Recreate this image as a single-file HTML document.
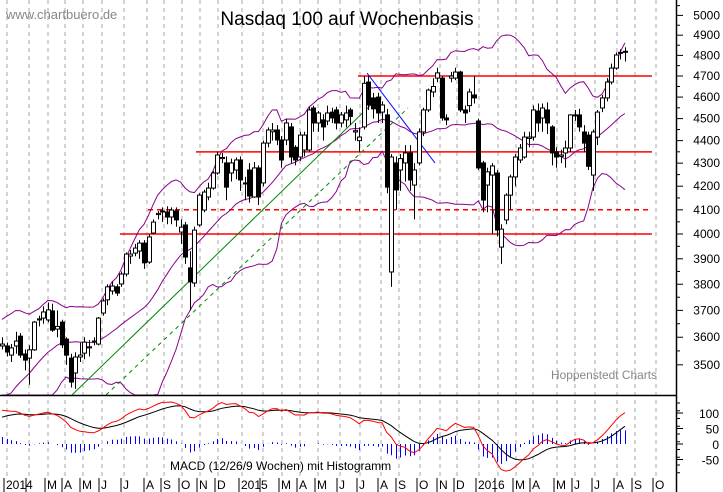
<!DOCTYPE html>
<html><head><meta charset="utf-8">
<style>
html,body{margin:0;padding:0;background:#fff;}
svg{display:block;font-family:"Liberation Sans",Arial,sans-serif;}
</style></head>
<body>
<svg id="chart" width="723" height="492" viewBox="0 0 723 492" xmlns="http://www.w3.org/2000/svg">
  <rect x="0" y="0" width="723" height="492" fill="#fff"/>
  <g id="grid"></g>
  <g id="levels"></g>
  <g id="bands"></g>
  <g id="trend"></g>
  <g id="candles"></g>
  <g id="macd"></g>
  <g id="axes"></g>
  <text x="6" y="19" font-size="13" fill="#888">www.chartbuero.de</text>
  <text x="347" y="25" font-size="19" fill="#000" text-anchor="middle">Nasdaq 100 auf Wochenbasis</text>
  <text x="551" y="379" font-size="12" fill="#888" textLength="106" lengthAdjust="spacingAndGlyphs">Hoppenstedt Charts</text>
  <text x="170" y="470" font-size="12" fill="#000">MACD (12/26/9 Wochen) mit Histogramm</text>
</svg>
<script>
const priorCloses=[3130,3150,3180,3190,3200,3230,3260,3280,3340,3360,3380,3370,3410,3440,3470,3500,3560,3590,3580];
const opens=[3568,3568,3535,3568,3604,3539,3524,3554,3664,3671,3664,3698,3630,3656,3593,3524,3471,3528,3542,3561,3582,3575,3690,3740,3774,3790,3801,3840,3911,3923,3931,3963,3887,4004,4080,4091,4091,4070,4095,4008,4037,3864,3805,4037,4099,4154,4192,4257,4320,4301,4257,4270,4314,4210,4270,4154,4279,4214,4389,4440,4448,4403,4403,4462,4370,4327,4358,4358,4549,4480,4494,4489,4530,4540,4480,4494,4540,4439,4400,4462,4671,4596,4600,4530,4517,3848,4301,4270,4301,4345,4205,4301,4439,4540,4624,4690,4690,4503,4690,4690,4719,4540,4560,4610,4489,4301,4205,4248,4257,3947,4058,4162,4240,4314,4327,4410,4416,4535,4503,4540,4462,4350,4330,4345,4367,4515,4517,4439,4425,4248,4416,4549,4596,4671,4738,4810,4815];
const highs=[3600,3580,3575,3620,3615,3555,3570,3660,3680,3715,3730,3725,3700,3665,3600,3540,3545,3580,3600,3590,3600,3675,3745,3800,3810,3800,3850,3925,3935,3960,3975,3975,4000,4060,4095,4110,4115,4110,4110,4060,4050,3930,4030,4170,4185,4215,4265,4350,4345,4330,4320,4325,4330,4240,4300,4305,4290,4400,4460,4480,4470,4420,4500,4480,4380,4440,4440,4555,4560,4535,4520,4560,4550,4555,4530,4560,4550,4480,4460,4700,4700,4620,4620,4580,4545,4340,4330,4340,4380,4380,4300,4455,4550,4640,4690,4740,4700,4520,4720,4740,4725,4560,4640,4700,4500,4310,4280,4300,4270,4040,4170,4250,4340,4385,4440,4440,4560,4570,4570,4575,4470,4370,4360,4400,4520,4540,4545,4470,4440,4450,4540,4610,4690,4760,4815,4830,4840];
const lows=[3555,3530,3510,3540,3525,3480,3430,3550,3640,3650,3655,3620,3600,3560,3500,3420,3415,3510,3520,3530,3570,3570,3680,3720,3760,3755,3790,3830,3880,3910,3900,3860,3880,4000,4060,4050,4040,4040,4030,3960,3880,3700,3790,4030,4090,4140,4185,4250,4300,4140,4220,4230,4180,4140,4130,4150,4120,4200,4370,4400,4380,4280,4380,4300,4290,4310,4330,4350,4440,4440,4400,4470,4480,4450,4460,4460,4470,4400,4350,4450,4540,4500,4480,4480,4170,3790,4100,4180,4220,4180,4060,4290,4420,4530,4600,4670,4490,4470,4670,4680,4530,4480,4530,4570,4270,4090,4090,4000,3990,3880,4040,4100,4200,4300,4320,4370,4400,4440,4440,4430,4290,4280,4300,4280,4350,4490,4440,4350,4270,4180,4380,4530,4580,4660,4730,4780,4770];
const closes=[3575,3546,3561,3586,3535,3517,3554,3656,3668,3694,3702,3626,3640,3572,3535,3439,3528,3535,3582,3565,3586,3671,3736,3790,3793,3766,3840,3919,3919,3943,3963,3884,3988,4049,4085,4095,4070,4099,4058,4028,3907,3809,4016,4162,4175,4192,4257,4336,4325,4196,4301,4314,4227,4214,4158,4279,4154,4389,4448,4448,4403,4314,4480,4327,4314,4425,4425,4540,4480,4526,4462,4526,4503,4480,4517,4526,4510,4445,4416,4665,4563,4545,4526,4563,4196,4327,4184,4320,4345,4227,4270,4439,4540,4633,4650,4715,4503,4494,4700,4719,4540,4526,4624,4596,4279,4141,4262,4288,4016,4020,4162,4240,4327,4367,4416,4416,4540,4480,4549,4480,4345,4327,4336,4367,4517,4517,4462,4389,4286,4439,4530,4596,4671,4738,4802,4815,4820];
const priceTicks=[3500,3600,3700,3800,3900,4000,4100,4200,4300,4400,4500,4600,4700,4800,4900,5000];
const macdTicks=[100,50,0,-50];
const monthLabels=["2014","","M","A","M","J","J","A","S","O","N","D","2015","","M","A","M","J","J","A","S","O","N","D","2016","","M","A","M","J","J","A","S","O"];
const monthTickX=[7,29,48,65,83,102,124,147,164,182,200,218,242,263,282,300,318,340,360,381,399,420,440,457,479,498,516,533,557,575,595,617,635,656];
const levelValues=[4700,4350,4100,4000];
const levelDashed=[false,false,true,false];
const levelStartX=[358,196,148,120];

const NS="http://www.w3.org/2000/svg";
function mk(tag,attrs,parent){const e=document.createElementNS(NS,tag);for(const k in attrs)e.setAttribute(k,attrs[k]);parent.appendChild(e);return e;}
const yP=v=>234-979.7*Math.log(v/4000);
const xC=i=>2+i*4.58;
const yM=v=>444-v*0.31;
const AXX=676, MAINB=395, MACDB=477, PLOTR=652;

const grid=document.getElementById('grid');
monthTickX.forEach((x,i)=>{
  const l=mk('line',{x1:x,y1:0,x2:x,y2:MACDB,stroke:'#aaa','stroke-width':1,'stroke-dasharray':'4,4'},grid);
  
  
});
const lv=document.getElementById('levels');
levelValues.forEach((v,i)=>{
  const l=mk('line',{x1:levelStartX[i],y1:yP(v),x2:PLOTR,y2:yP(v),stroke:'#f00','stroke-width':1.5},lv);
  if(levelDashed[i])l.setAttribute('stroke-dasharray','5,4');
  
  
});
const all=priorCloses.concat(closes), P=priorCloses.length;
let up=[],mid=[],lo=[];
for(let i=0;i<closes.length;i++){
  const w=all.slice(P+i-19,P+i+1);const m=w.reduce((a,b)=>a+b,0)/w.length;
  const sd=Math.sqrt(w.reduce((a,b)=>a+(b-m)*(b-m),0)/(w.length-1));
  up.push(m+2*sd);mid.push(m);lo.push(m-2*sd);
}
const bg=document.getElementById('bands');
[up,mid,lo].forEach((arr,k)=>{
  const d=arr.map((v,i)=>(i?'L':'M')+xC(i).toFixed(1)+','+Math.min(MAINB,yP(v)).toFixed(1)).join('');
  const p=mk('path',{d:d,fill:'none',stroke:'#8b008b','stroke-width':1},bg);
  
  
});
const tg=document.getElementById('trend');
let t=mk('line',{x1:72,y1:395,x2:378,y2:98,stroke:'#080','stroke-width':1},tg);


t=mk('line',{x1:106,y1:395,x2:408,y2:108,stroke:'#080','stroke-width':1,'stroke-dasharray':'4,4'},tg);


t=mk('line',{x1:367,y1:73,x2:435,y2:163,stroke:'#00f','stroke-width':1},tg);


const cg=document.getElementById('candles');
closes.forEach((c,i)=>{
  const x=Math.round(xC(i))+0.5,o=opens[i];
  const w=mk('line',{x1:x,y1:yP(highs[i]),x2:x,y2:Math.min(MAINB,yP(lows[i])),stroke:'#000','stroke-width':1},cg);
  
  
  const top=yP(Math.max(o,c)),bot=yP(Math.min(o,c));
  const r=mk('rect',{x:x-2,y:top,width:4,height:Math.max(1,bot-top),fill:c>=o?'#fff':'#000',stroke:'#000','stroke-width':1},cg);
  
  
});
function ema(arr,n){const k=2/(n+1);let e=arr[0];return arr.map(v=>e=e+k*(v-e));}
const e12=ema(all,12),e26=ema(all,26);
const macdAll=e12.map((v,i)=>v-e26[i]);
const sigAll=ema(macdAll,9);
const macd=macdAll.slice(P),sig=sigAll.slice(P);
const mg=document.getElementById('macd');
macd.forEach((v,i)=>{
  const h=(v-sig[i]);const x=Math.round(xC(i))+0.5;
  const b=mk('line',{x1:x,y1:yM(0),x2:x,y2:yM(h),stroke:'#00f','stroke-width':1},mg);
  
  
});
let p=mk('path',{d:sig.map((v,i)=>(i?'L':'M')+xC(i).toFixed(1)+','+yM(v).toFixed(1)).join(''),fill:'none',stroke:'#000','stroke-width':1},mg);


p=mk('path',{d:macd.map((v,i)=>(i?'L':'M')+xC(i).toFixed(1)+','+yM(v).toFixed(1)).join(''),fill:'none',stroke:'#f00','stroke-width':1},mg);


const ag=document.getElementById('axes');
let a=mk('line',{x1:0,y1:MAINB+0.5,x2:AXX,y2:MAINB+0.5,stroke:'#000','stroke-width':1.5},ag);


a=mk('line',{x1:AXX+0.5,y1:0,x2:AXX+0.5,y2:492,stroke:'#000','stroke-width':1.5},ag);


priceTicks.forEach(v=>{
  const y=yP(v);
  mk('line',{x1:AXX,y1:y,x2:AXX+7,y2:y,stroke:'#000','stroke-width':1},ag);
  const ym=yP(v+50);if(ym>0)mk('line',{x1:AXX,y1:ym,x2:AXX+4,y2:ym,stroke:'#000','stroke-width':1},ag);
  const tx=mk('text',{x:720,y:y+4,'font-size':12,'text-anchor':'end',fill:'#000'},ag);
  tx.textContent=v;
  
  
});
macdTicks.forEach(v=>{
  const y=yM(v);
  mk('line',{x1:AXX,y1:y,x2:AXX+7,y2:y,stroke:'#000','stroke-width':1},ag);
  const tx=mk('text',{x:719,y:y+5,'font-size':12,'text-anchor':'end',fill:'#000'},ag);
  tx.textContent=v;
  
  
});
for(let y=403;y<MACDB;y+=7.75)mk('line',{x1:AXX,y1:y,x2:AXX+4,y2:y,stroke:'#000','stroke-width':1},ag);
monthTickX.forEach((x,i)=>{
  mk('line',{x1:x-3,y1:MACDB+1,x2:x-3,y2:492,stroke:'#000','stroke-width':1},ag);
  if(monthLabels[i]){
    const tx=mk('text',{x:x-1,y:489,'font-size':12,fill:'#000'},ag);
    tx.textContent=monthLabels[i];
    
    
  }
});
</script>
</body></html>
